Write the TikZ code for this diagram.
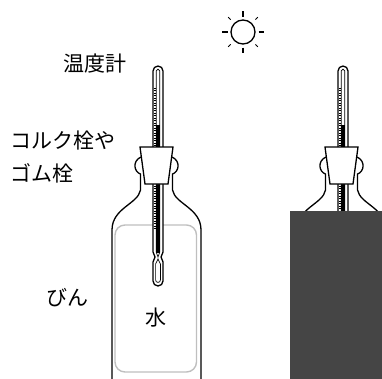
\documentclass[tikz,border=0pt]{standalone}
\usepackage{fontspec}
\newfontfamily\jp{Noto Sans CJK JP}
\usetikzlibrary{positioning}

% one bottle with its stopper and thermometer, centred near x=157
\newcommand{\bottlewiththermo}{%
  % glass
  \draw[glass] (112,380) -- (112,230) .. controls (112,208) and (138,204) .. (140.5,190)
    -- (140.5,174) .. controls (134,172) and (132,161) .. (141,157);
  \draw[glass] (201,380) -- (201,230) .. controls (201,208) and (175,204) .. (172.5,190)
    -- (172.5,174) .. controls (179,172) and (181,161) .. (172,157);
  \drawwater
  % thermometer
  \draw[tube] (153,252) -- (153,71) arc (180:360:5) -- (163,252) -- (161,257)
    -- (163,262) -- (163,281) arc (0:180:5) -- (153,262) -- (155,257) -- cycle;
  \draw[line width=0.7pt] (156.2,252) -- (156.2,71) arc (180:360:1.8) -- (159.8,252);
  \fill (156.4,125) rectangle (159.6,253);
  \draw[line width=0.7pt] (156.2,252) -- (158,257) -- (159.8,252);
  \draw[line width=0.7pt] (155.6,264) -- (158,259) -- (160.4,264) -- (160.4,280)
    arc (0:180:2.4) -- cycle;
  \foreach \y in {88,90.5,...,146} \draw[tick] (153.6,\y) -- (155.8,\y);
  \foreach \y in {186,188.5,...,230} \draw[tick] (153.6,\y) -- (155.8,\y);
  % stopper
  \draw[plug] (140,147) -- (173,147) -- (168,184) -- (145,184) -- cycle;
}
\newcommand{\drawwater}{}

\begin{document}
\begin{tikzpicture}[x=1pt,y=-1pt,
  glass/.style={line width=1.3pt},
  tube/.style={fill=white,line width=1.3pt},
  tick/.style={line width=0.4pt},
  plug/.style={fill=white,line width=1.3pt,line join=miter},
  water/.style={draw=black!25,line width=1.4pt,rounded corners=10pt},
  jtext/.style={font=\jp\fontsize{21}{26}\selectfont,inner sep=0pt}]
\useasboundingbox (0,0) rectangle (382,378);
\clip (0,0) rectangle (382,378);

% sun
\draw[line width=1.3pt] (243,32) circle (12);
\foreach \a in {0,90,180,270}
  \draw[line width=1.3pt] (243,32) ++(\a:15.5) -- ++(\a:5.5);
\foreach \a in {45,135,225,315}
  \draw[line width=1pt] (243,32) ++(\a:17.5) -- ++(\a:3.5);

% bottle with water
\begin{scope}
  \renewcommand{\drawwater}{\draw[water] (115,225) rectangle (196.5,372);}
  \bottlewiththermo
\end{scope}

% bottle covered up
\begin{scope}[xshift=185pt]
  \renewcommand{\drawwater}{}
  \bottlewiththermo
\end{scope}
\fill[black!73] (290,211) rectangle (390,390);

% labels
\node[jtext] (thermo) at (95,64) {温度計};
\node[jtext,anchor=west] (cork) at (10,141) {コルク栓や};
\node[jtext,anchor=west] (rubber) at (10,173) {ゴム栓};
\node[jtext] (bin) at (67,298) {びん};
\node[jtext] (mizu) at (156,318) {水};
\end{tikzpicture}
\end{document}
